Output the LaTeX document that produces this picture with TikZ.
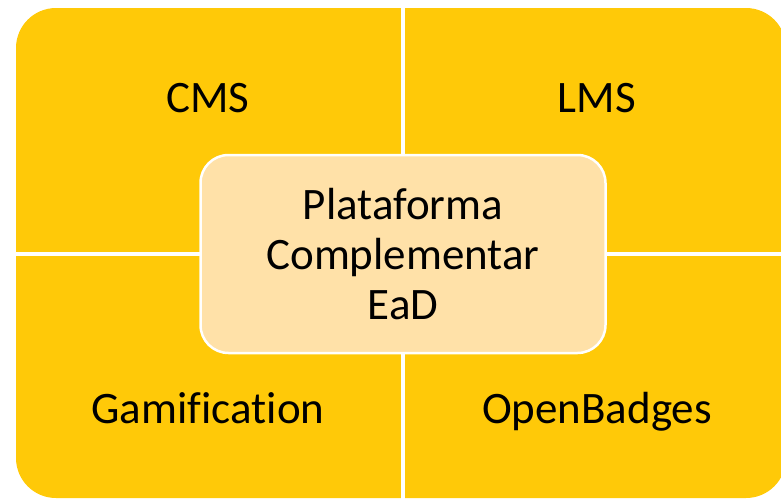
\documentclass[tikz,border=0pt]{standalone}
\usepackage{fontspec}
\setmainfont{Carlito}[Ligatures=NoCommon]
\definecolor{quadfill}{RGB}{255,201,8}
\definecolor{hubfill}{RGB}{255,225,168}
\begin{document}
\begin{tikzpicture}[x=1pt,y=-1pt,
    label/.style={anchor=base,inner sep=0pt,font=\fontsize{45}{50}\selectfont},
    hub/.style={draw=white,line width=2.5pt,fill=hubfill,rounded corners=28pt,
      minimum width=405pt,minimum height=198pt,align=center,
      font=\fontsize{45}{50}\selectfont}]
  \useasboundingbox (0,0) rectangle (781,499);
  \clip (0,0) rectangle (781,499);
  % quadrants
  \fill[quadfill,rounded corners=40pt] (16,8) rectangle (786,498);
  \draw[white,line width=4pt] (403,0) -- (403,499);
  \draw[white,line width=4pt] (0,254) -- (781,254);
  \node[label] (cms) at (208,112) {CMS};
  \node[label] (lms) at (597,112) {LMS};
  \node[label] (gamification) at (208,423) {Gamification};
  \node[label] (openbadges) at (597,423) {OpenBadges};
  % centre
  \node[hub] (plataforma) at (403,254) {Plataforma\\Complementar\\EaD};
\end{tikzpicture}
\end{document}
